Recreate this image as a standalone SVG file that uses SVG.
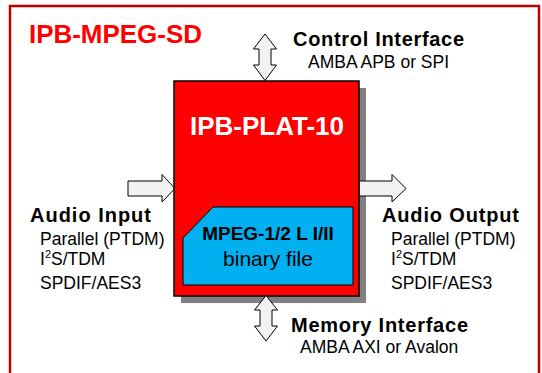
<svg xmlns="http://www.w3.org/2000/svg" width="542" height="373" viewBox="0 0 542 373">
<style>
.arrow{fill:#F2F2F2;stroke:#000;stroke-width:1;stroke-linejoin:miter}
.h{font-family:"Liberation Sans",Arial,sans-serif;font-weight:bold;font-size:20px;fill:#000}
.s{font-family:"Liberation Sans",Arial,sans-serif;font-size:17.5px;fill:#000}
</style>
<rect x="0" y="0" width="542" height="373" fill="#fff"/>
<g id="frame">
<rect x="10" y="6" width="529" height="390" fill="none" stroke="#C00000" stroke-width="2.5"/>
<text x="29" y="43" font-family="Liberation Sans,Arial,sans-serif" font-weight="bold" font-size="26" fill="#FF0000" textLength="173">IPB-MPEG-SD</text>
</g>
<g id="connectors">
<path class="arrow" d="M128,181 L162,181 L162,174.5 L175,188.5 L162,202 L162,196 L128,196 Z"/>
<path class="arrow" d="M265,34 L276.5,49 L271,49 L271,65 L276.5,65 L265,80.5 L253.5,65 L259,65 L259,49 L253.5,49 Z"/>
</g>
<g id="ipb-plat-10">
<rect x="181" y="88" width="185" height="215" fill="#808080"/>
<rect x="174" y="81" width="185" height="215" fill="#FF0000" stroke="#000" stroke-width="1.5"/>
<text x="267" y="135" text-anchor="middle" font-family="Liberation Sans,Arial,sans-serif" font-weight="bold" font-size="26" fill="#fff">IPB-PLAT-10</text>
</g>
<g id="binary-file">
<path d="M183,238 L213,207 L353,207 L353,285 L183,285 Z" fill="#00B0F0" stroke="#000" stroke-width="1"/>
<text x="268" y="240" text-anchor="middle" font-family="Liberation Sans,Arial,sans-serif" font-weight="bold" font-size="19" fill="#000">MPEG-1/2 L I/II</text>
<text x="268" y="266" text-anchor="middle" font-family="Liberation Sans,Arial,sans-serif" font-size="21" fill="#000">binary file</text>
</g>
<g id="connectors-2">
<path class="arrow" d="M360,181 L392,181 L392,174.5 L406,188.5 L392,202 L392,196 L360,196"/>
<path class="arrow" d="M266,295.5 L277.5,310 L272,310 L272,326 L277.5,326 L266,341 L254.5,326 L260,326 L260,310 L254.5,310 Z"/>
</g>
<g id="control-interface">
<text class="h" x="293" y="46" textLength="171">Control Interface</text>
<text class="s" x="308" y="68">AMBA APB or SPI</text>
</g>
<g id="audio-input">
<text class="h" x="30" y="222" textLength="121">Audio Input</text>
<text class="s" x="40" y="245">Parallel (PTDM)</text>
<text class="s" x="40" y="265">I<tspan font-size="11" dy="-7">2</tspan><tspan dy="7">S/TDM</tspan></text>
<text class="s" x="40" y="289">SPDIF/AES3</text>
</g>
<g id="audio-output">
<text class="h" x="382" y="222" textLength="137">Audio Output</text>
<text class="s" x="391" y="245">Parallel (PTDM)</text>
<text class="s" x="391" y="265">I<tspan font-size="11" dy="-7">2</tspan><tspan dy="7">S/TDM</tspan></text>
<text class="s" x="391" y="289">SPDIF/AES3</text>
</g>
<g id="memory-interface">
<text class="h" x="291" y="332" textLength="177">Memory Interface</text>
<text class="s" x="300" y="353">AMBA AXI or Avalon</text>
</g>
</svg>
